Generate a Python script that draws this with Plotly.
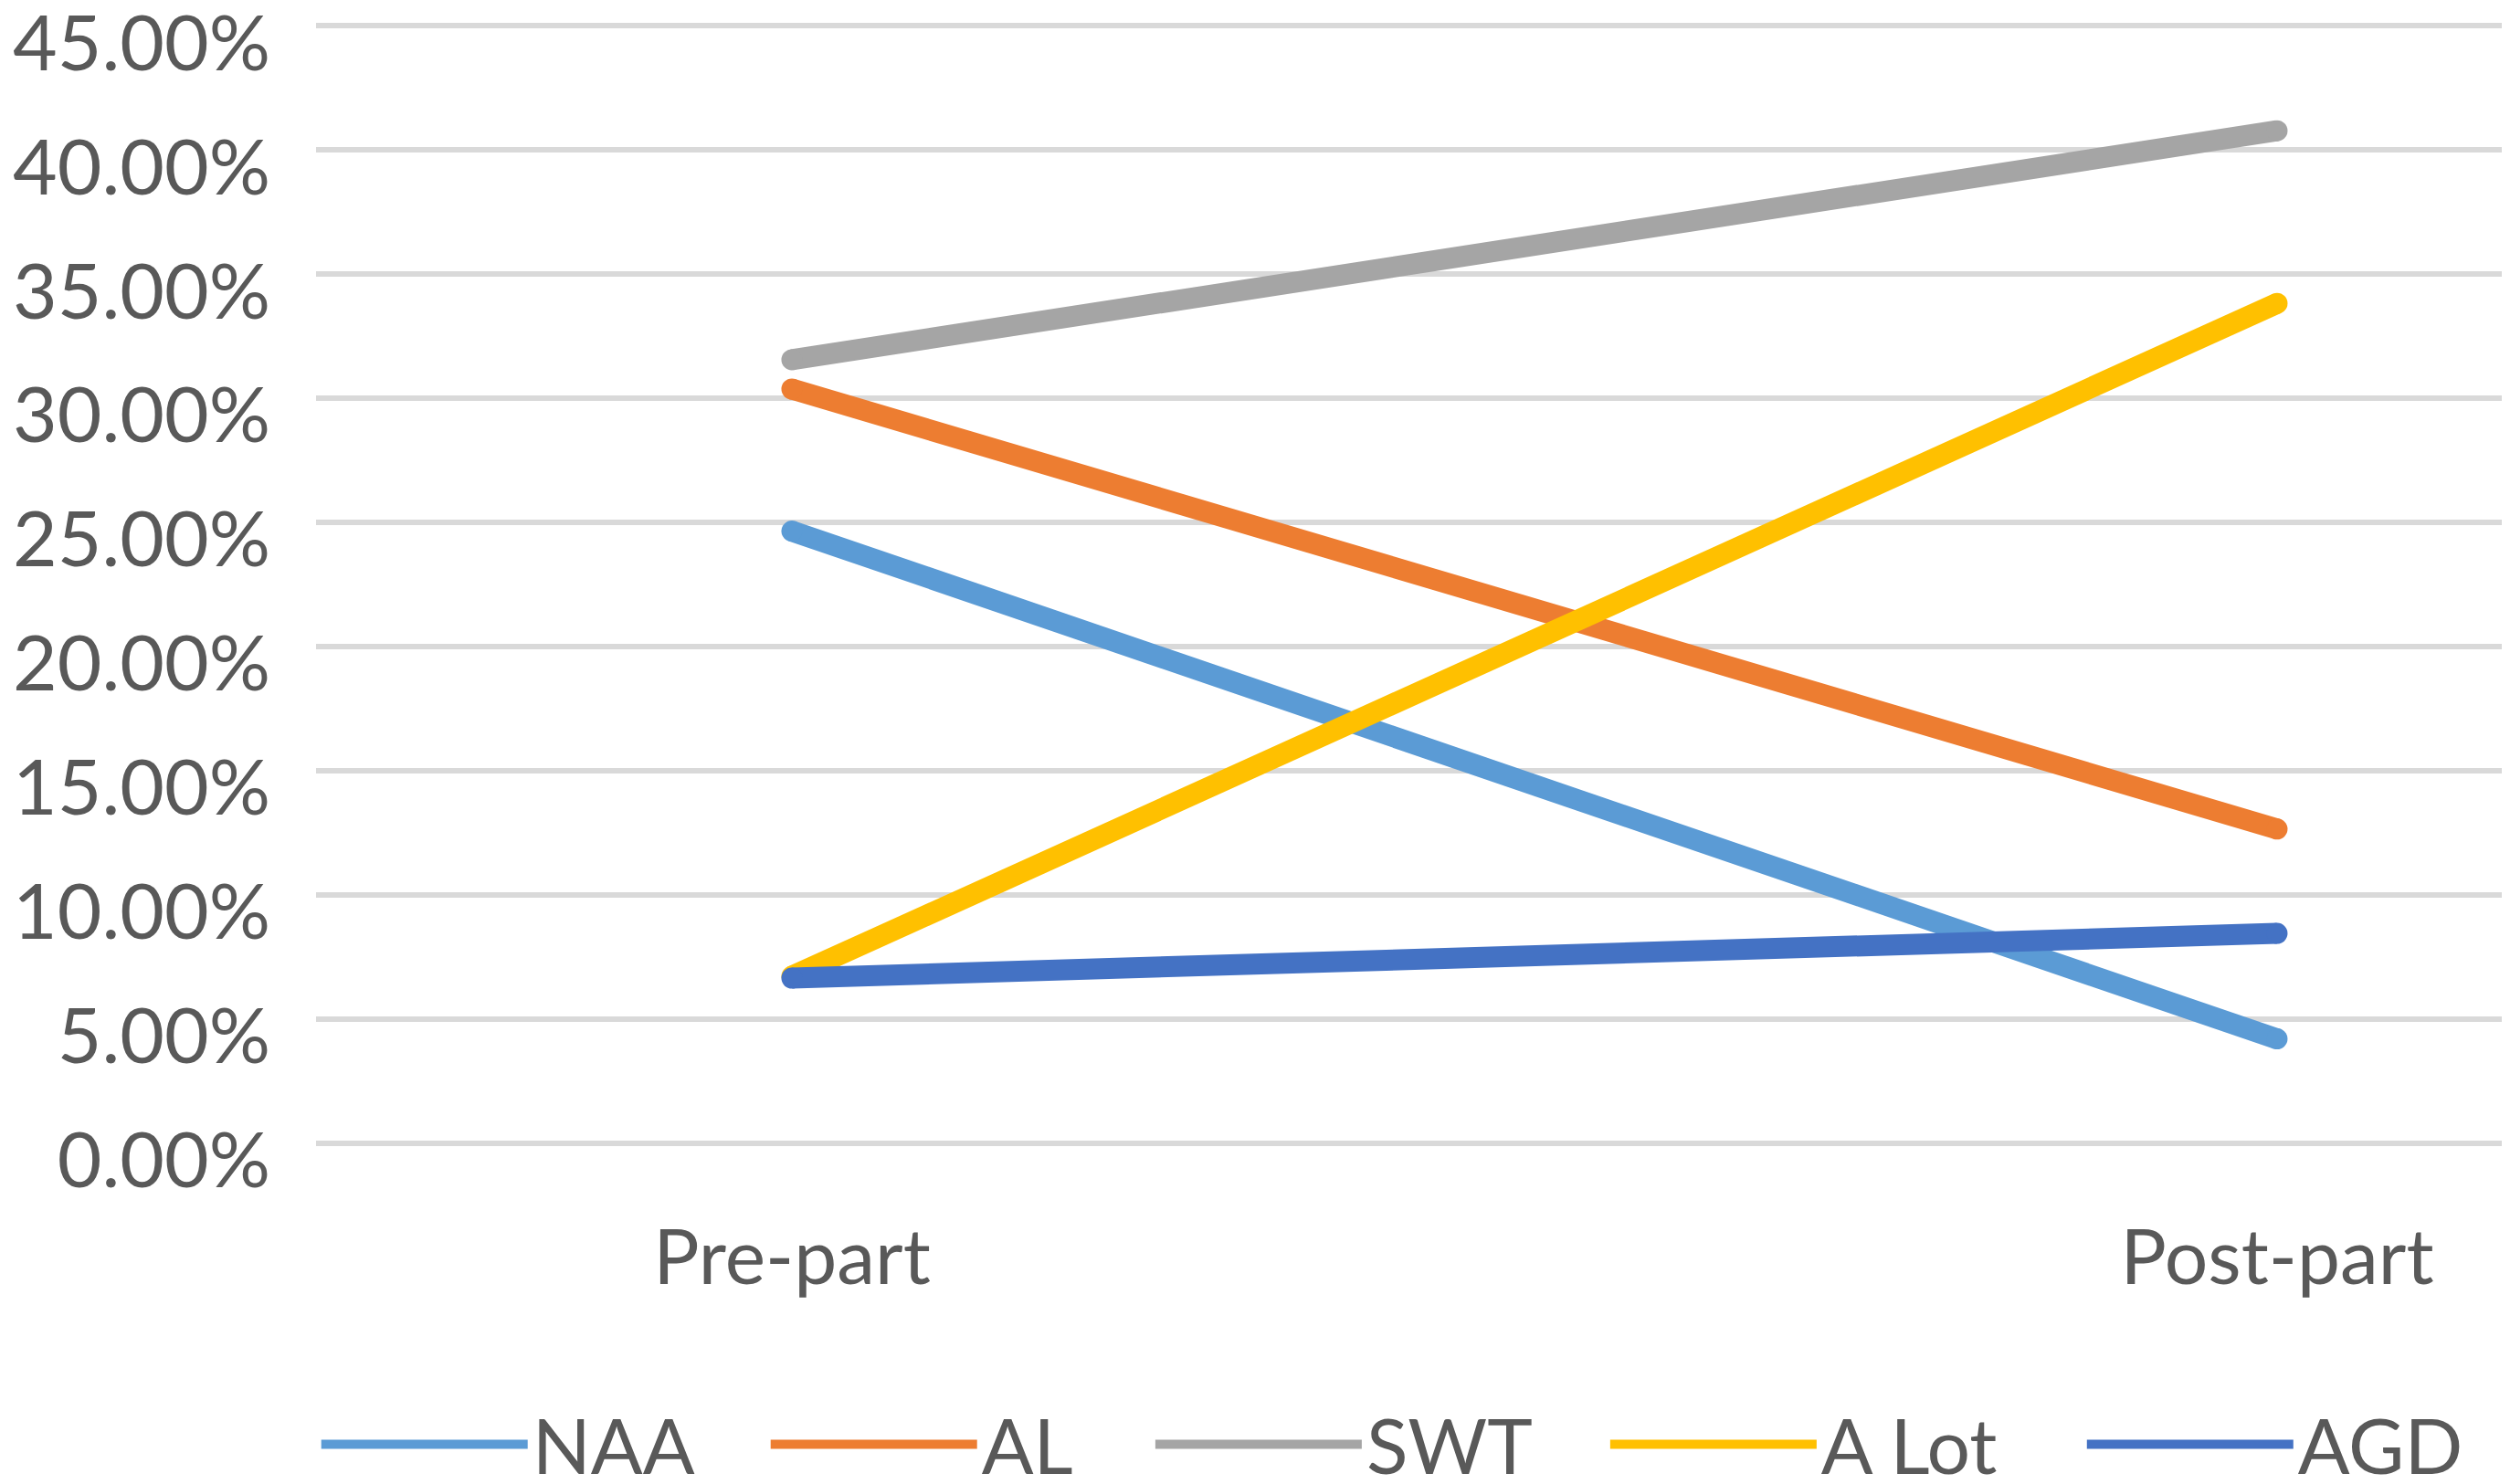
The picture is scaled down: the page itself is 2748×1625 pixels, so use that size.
import plotly.graph_objects as go

categories = ["Pre-part", "Post-part"]
series_names = ["NAA", "AL", "SWT", "A Lot", "AGD"]
naa = [0.2465, 0.0420]
al = [0.3037, 0.1265]
swt = [0.3155, 0.4077]
alot = [0.0672, 0.3382]
agd = [0.0665, 0.0845]
y_ticks = [0, 0.05, 0.10, 0.15, 0.20, 0.25, 0.30, 0.35, 0.40, 0.45]

colors = ["#5B9BD5", "#ED7D31", "#A5A5A5", "#FFC000", "#4472C4"]
values = [naa, al, swt, alot, agd]
legend_ids = ["legend", "legend2", "legend3", "legend4", "legend5"]
legend_x = [0.0003, 0.2059, 0.3819, 0.5900, 0.8081]

FONT = "Lato"
TXT = "#595959"
LW = 23

fig = go.Figure()
for name, vals, col, lid in zip(series_names, values, colors, legend_ids):
    fig.add_trace(go.Scatter(
        x=[0, 1], y=vals, mode="lines", name=name, legend=lid,
        line=dict(color=col, width=LW),
        hoverinfo="skip",
    ))
    fig.add_trace(go.Scatter(
        x=[0, 1], y=vals, mode="markers", showlegend=False,
        marker=dict(color=col, size=LW, line=dict(width=0)),
        hoverinfo="skip",
    ))

legend_common = dict(
    orientation="h", xanchor="left", y=-0.2671, yanchor="middle",
    font=dict(family=FONT, size=84, color=TXT),
    itemwidth=226, bgcolor="rgba(0,0,0,0)",
)
layout_legends = {}
for lid, lx in zip(legend_ids, legend_x):
    layout_legends[lid] = dict(legend_common, x=lx)

fig.update_layout(
    width=2748, height=1625,
    margin=dict(l=338, r=17, t=18, b=379, autoexpand=False),
    paper_bgcolor="white", plot_bgcolor="white",
    font=dict(family=FONT, size=84, color=TXT),
    showlegend=True,
    **layout_legends,
)
fig.update_xaxes(
    range=[-0.3204, 1.1513],
    tickmode="array", tickvals=[0, 1], ticktext=categories,
    showgrid=False, zeroline=False, showline=False, ticks="",
    ticklabelstandoff=67, automargin=False,
    tickfont=dict(family=FONT, size=84, color=TXT),
)
fig.update_yaxes(
    range=[-0.0008, 0.4508],
    tickmode="array", tickvals=y_ticks,
    tickformat=".2%",
    showgrid=True, gridcolor="#D9D9D9", gridwidth=6,
    zeroline=True, zerolinecolor="#D9D9D9", zerolinewidth=6,
    showline=False, ticks="",
    ticklabelstandoff=49, ticklabelshift=19,
    ticklabeloverflow="allow", automargin=False,
    tickfont=dict(family=FONT, size=84, color=TXT),
)

fig.write_html("out.html")
